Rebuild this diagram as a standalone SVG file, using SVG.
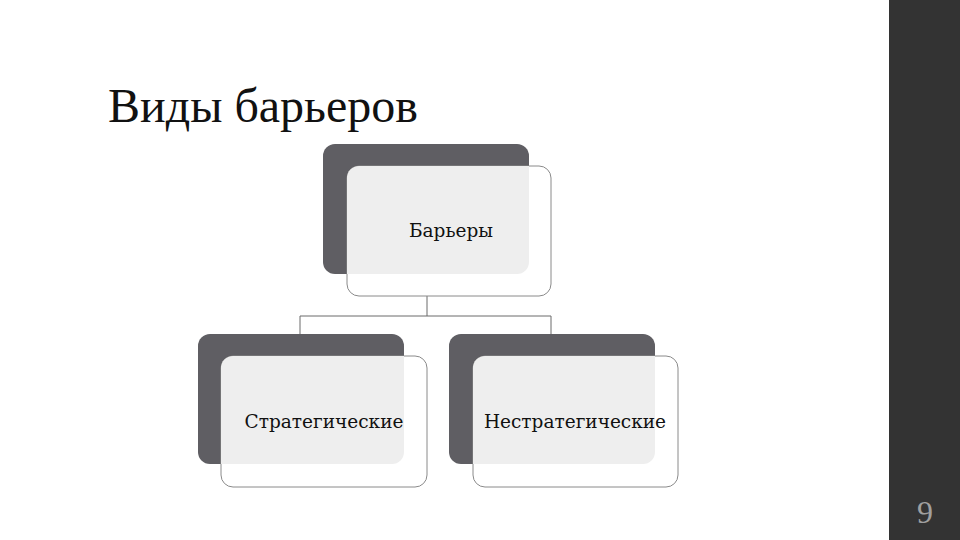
<svg xmlns="http://www.w3.org/2000/svg" width="960" height="540" viewBox="0 0 960 540">
<style>
.dark{fill:#5f5e63}
.light{fill:#ffffff;stroke:#8a8a8a;stroke-width:1}
.ov{fill:#eeeeee}
.lbl{font-family:"DejaVu Serif","Liberation Serif",serif;font-size:18.5px;fill:#111;text-anchor:middle}
.conn{fill:none;stroke:#6a6a6a;stroke-width:1}
.title{font-family:"Liberation Serif","Times New Roman",serif;font-size:48px;fill:#111}
.num{font-family:"Liberation Serif","Times New Roman",serif;font-size:32px;fill:#a0a0a0;text-anchor:middle}
</style>
<rect x="0" y="0" width="960" height="540" fill="#ffffff"/>
<rect x="889" y="0" width="71" height="540" fill="#333333"/>
<text class="num" x="925" y="523">9</text>
<text class="title" x="108" y="122">Виды барьеров</text>
<g id="connectors">
<path class="conn" d="M427,296 V316 M300,334 V316 H551 V334"/>
</g>
<g id="node-top">
<rect class="dark" x="323" y="144" width="206" height="130" rx="12"/>
<rect class="light" x="347" y="166" width="204" height="130" rx="12"/>
<path class="ov" d="M359,166 H529 V262 A12,12 0 0 1 517,274 H347 V178 A12,12 0 0 1 359,166 Z"/>
<text class="lbl" x="451" y="237">Барьеры</text>
</g>
<g id="node-left">
<rect class="dark" x="198" y="334" width="206" height="130" rx="12"/>
<rect class="light" x="221" y="356" width="206" height="131" rx="12"/>
<path class="ov" d="M233,356 H404 V452 A12,12 0 0 1 392,464 H221 V368 A12,12 0 0 1 233,356 Z"/>
<text class="lbl" x="324" y="428">Стратегические</text>
</g>
<g id="node-right">
<rect class="dark" x="449" y="334" width="206" height="130" rx="12"/>
<rect class="light" x="473" y="356" width="205" height="131" rx="12"/>
<path class="ov" d="M485,356 H655 V452 A12,12 0 0 1 643,464 H473 V368 A12,12 0 0 1 485,356 Z"/>
<text class="lbl" x="575" y="428">Нестратегические</text>
</g>
</svg>
